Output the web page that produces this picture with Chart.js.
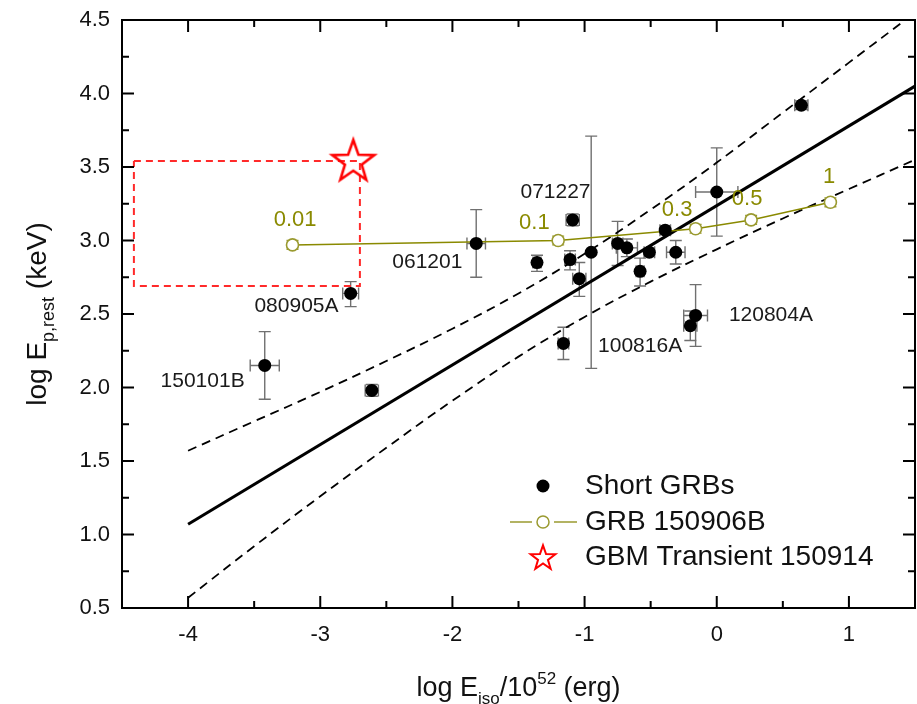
<!DOCTYPE html>
<html>
<head>
<meta charset="utf-8">
<script src="https://cdn.jsdelivr.net/npm/chart.js@4.4.0/dist/chart.umd.min.js"></script>
<style>
  html, body { margin: 0; padding: 0; background: #fff; }
  canvas { display: block; }
</style>
</head>
<body>
<canvas id="chart" width="917" height="704"></canvas>
<script>
// ---- data ----
const xMajor = [-4, -3, -2, -1, 0, 1];
const xMinor = [-3.5, -2.5, -1.5, -0.5, 0.5];
const yMajor = [0.5, 1.0, 1.5, 2.0, 2.5, 3.0, 3.5, 4.0, 4.5];
const yMinor = [0.75, 1.25, 1.75, 2.25, 2.75, 3.25, 3.75, 4.25];

// short GRBs
const sgrbX     = [-3.42, -2.61, -2.77, -1.82, -1.36, -1.09, -1.11, -1.04, -0.95, -0.75, -0.68, -0.58, -0.51, -0.39, -0.31, 0.00, -0.16, -0.20, -1.16, 0.64];
const sgrbY     = [ 2.15,  1.98,  2.64,  2.98,  2.85,  3.14,  2.87,  2.74,  2.92,  2.98,  2.95,  2.79,  2.92,  3.07,  2.92, 3.33,  2.49,  2.42,  2.30, 3.92];
const sgrbXErr  = [ 0.11,  0.05,  0.06,  0.07,  0.03,  0.05,  0.04,  0.05,  0.00,  0.04,  0.08,  0.03,  0.04,  0.04,  0.07, 0.16,  0.09,  0.05,  0.04, 0.05];
const sgrbYErrU = [ 0.23,  0.04,  0.08,  0.23,  0.05,  0.04,  0.06,  0.11,  0.79,  0.15,  0.06,  0.09,  0.03,  0.03,  0.08, 0.30,  0.21,  0.10,  0.11, 0.03];
const sgrbYErrD = [ 0.23,  0.04,  0.09,  0.23,  0.06,  0.04,  0.07,  0.12,  0.79,  0.15,  0.06,  0.10,  0.03,  0.03,  0.08, 0.30,  0.21,  0.10,  0.11, 0.03];

// GRB 150906B
const bX = [-3.21, -1.20, -0.16, 0.26, 0.86];
const bY = [2.97, 3.00, 3.08, 3.14, 3.26];
const bYErr = [0.03, 0.03, 0.03, 0.03, 0.03];
const bLabels = ['0.01', '0.1', '0.3', '0.5', '1'];

// GBM transient 150914
const starX = [-2.75];
const starY = [3.55];

// dashed red box
const boxX = [-4.41, -2.70, -2.70, -4.41, -4.41];
const boxY = [3.54, 3.54, 2.69, 2.69, 3.54];

// best fit and band
const fitX = [-4, 1.5];
const fitY = [1.07, 4.05];
const bandX  = [-4, -3.5, -3, -2.5, -2, -1.5, -1, -0.5, 0, 0.5, 1, 1.5];
const bandUp = [1.57, 1.77, 1.97, 2.18, 2.40, 2.64, 2.91, 3.21, 3.53, 3.87, 4.21, 4.55];
const bandLo = [0.57, 0.92, 1.26, 1.59, 1.91, 2.21, 2.48, 2.72, 2.94, 3.15, 3.35, 3.55];

// text labels (data coords of label centre)
const grbNames = [
  { t: '071227', x: -1.22, y: 3.33 },
  { t: '061201', x: -2.19, y: 2.85 },
  { t: '080905A', x: -3.18, y: 2.55 },
  { t: '150101B', x: -3.89, y: 2.04 },
  { t: '100816A', x: -0.58, y: 2.28 },
  { t: '120804A', x: 0.41, y: 2.49 },
];
const bLabelPos = [
  { x: -3.19, y: 3.14 }, { x: -1.38, y: 3.12 }, { x: -0.30, y: 3.21 }, { x: 0.23, y: 3.28 }, { x: 0.85, y: 3.43 }
];

const FONT = '"Liberation Sans", Arial, Helvetica, sans-serif';
const OLIVE = '#8a8a00';
const OLIVE_MK = '#9a9a30';
const ERR = '#707070';

const pts = (xs, ys) => xs.map((x, i) => ({ x: x, y: ys[i] }));

function makeStar(R, lw) {
  const s = Math.ceil(2 * R + lw * 2 + 4);
  const c = document.createElement('canvas');
  c.width = s; c.height = s;
  const g = c.getContext('2d');
  g.translate(s / 2, s / 2 + R * 0.1);
  g.beginPath();
  for (let i = 0; i < 10; i++) {
    const r = i % 2 ? R * 0.4 : R;
    const a = -Math.PI / 2 + i * Math.PI / 5;
    if (i === 0) g.moveTo(r * Math.cos(a), r * Math.sin(a));
    else g.lineTo(r * Math.cos(a), r * Math.sin(a));
  }
  g.closePath();
  g.lineJoin = 'miter';
  g.strokeStyle = '#ff0000';
  g.lineWidth = lw;
  g.stroke();
  return c;
}
const bigStar = makeStar(22, 2.6);
const smallStar = makeStar(13, 2);

function richText(ctx, parts, x, y) {
  let w = 0;
  parts.forEach(p => { ctx.font = p.f + 'px ' + FONT; p.w = ctx.measureText(p.t).width; w += p.w; });
  let cx = x - w / 2;
  ctx.textAlign = 'left';
  ctx.textBaseline = 'alphabetic';
  parts.forEach(p => {
    ctx.font = p.f + 'px ' + FONT;
    ctx.fillText(p.t, cx, y + (p.dy || 0));
    cx += p.w;
  });
}

const errorBars = {
  id: 'errorBars',
  beforeDatasetsDraw(chart) {
    const { ctx, scales: { x, y } } = chart;
    ctx.save();
    ctx.strokeStyle = ERR;
    ctx.lineWidth = 1.4;
    const cap = 6;
    sgrbX.forEach((vx, i) => {
      const px = x.getPixelForValue(vx), py = y.getPixelForValue(sgrbY[i]);
      const yt = y.getPixelForValue(sgrbY[i] + sgrbYErrU[i]);
      const yb = y.getPixelForValue(sgrbY[i] - sgrbYErrD[i]);
      ctx.beginPath();
      ctx.moveTo(px, yt); ctx.lineTo(px, yb);
      ctx.moveTo(px - cap, yt); ctx.lineTo(px + cap, yt);
      ctx.moveTo(px - cap, yb); ctx.lineTo(px + cap, yb);
      if (sgrbXErr[i] > 0) {
        const xl = x.getPixelForValue(vx - sgrbXErr[i]);
        const xr = x.getPixelForValue(vx + sgrbXErr[i]);
        ctx.moveTo(xl, py); ctx.lineTo(xr, py);
        ctx.moveTo(xl, py - cap); ctx.lineTo(xl, py + cap);
        ctx.moveTo(xr, py - cap); ctx.lineTo(xr, py + cap);
      }
      ctx.stroke();
    });
    ctx.strokeStyle = OLIVE_MK;
    bX.forEach((vx, i) => {
      const px = x.getPixelForValue(vx);
      const yt = y.getPixelForValue(bY[i] + bYErr[i]);
      const yb = y.getPixelForValue(bY[i] - bYErr[i]);
      ctx.beginPath();
      ctx.moveTo(px - cap, yt); ctx.lineTo(px + cap, yt);
      ctx.moveTo(px - cap, yb); ctx.lineTo(px + cap, yb);
      ctx.stroke();
    });
    ctx.restore();
  }
};

const decor = {
  id: 'decor',
  afterDraw(chart) {
    const { ctx, chartArea: a, scales: { x, y } } = chart;
    ctx.save();
    // frame
    ctx.strokeStyle = '#000';
    ctx.lineWidth = 2;
    ctx.strokeRect(a.left, a.top, a.right - a.left, a.bottom - a.top);
    // inward ticks on all four sides
    const tick = (vals, len) => {
      vals.forEach(v => {
        const px = x.getPixelForValue(v);
        ctx.moveTo(px, a.bottom); ctx.lineTo(px, a.bottom - len);
        ctx.moveTo(px, a.top); ctx.lineTo(px, a.top + len);
      });
    };
    const ytick = (vals, len) => {
      vals.forEach(v => {
        const py = y.getPixelForValue(v);
        ctx.moveTo(a.left, py); ctx.lineTo(a.left + len, py);
        ctx.moveTo(a.right, py); ctx.lineTo(a.right - len, py);
      });
    };
    ctx.beginPath();
    tick(xMajor, 12); tick(xMinor, 7);
    ytick(yMajor, 12); ytick(yMinor, 7);
    ctx.stroke();

    // point labels
    ctx.fillStyle = '#1a1a1a';
    ctx.font = '21px ' + FONT;
    ctx.textAlign = 'center';
    ctx.textBaseline = 'middle';
    grbNames.forEach(l => ctx.fillText(l.t, x.getPixelForValue(l.x), y.getPixelForValue(l.y)));
    ctx.fillStyle = OLIVE;
    ctx.font = '22px ' + FONT;
    bLabels.forEach((t, i) => ctx.fillText(t, x.getPixelForValue(bLabelPos[i].x), y.getPixelForValue(bLabelPos[i].y)));

    // legend
    const lx = 543, tx = 585;
    const ly = [486, 522, 557];
    ctx.fillStyle = '#000';
    ctx.beginPath(); ctx.arc(lx, ly[0], 6.5, 0, Math.PI * 2); ctx.fill();
    ctx.strokeStyle = OLIVE_MK; ctx.lineWidth = 1.5;
    ctx.beginPath(); ctx.moveTo(510, ly[1]); ctx.lineTo(532, ly[1]); ctx.moveTo(554, ly[1]); ctx.lineTo(577, ly[1]); ctx.stroke();
    ctx.fillStyle = '#fff';
    ctx.beginPath(); ctx.arc(lx, ly[1], 6, 0, Math.PI * 2); ctx.fill(); ctx.stroke();
    ctx.drawImage(smallStar, lx - smallStar.width / 2, ly[2] - smallStar.height / 2);
    ctx.fillStyle = '#111';
    ctx.font = '28px ' + FONT;
    ctx.textAlign = 'left';
    ctx.textBaseline = 'middle';
    ctx.fillText('Short GRBs', tx, ly[0]);
    ctx.fillText('GRB 150906B', tx, ly[1]);
    ctx.fillText('GBM Transient 150914', tx, ly[2]);

    // axis titles
    ctx.fillStyle = '#111';
    richText(ctx, [
      { t: 'log E', f: 27 }, { t: 'iso', f: 17, dy: 8 }, { t: '/10', f: 27 }, { t: '52', f: 17, dy: -12 }, { t: ' (erg)', f: 27 }
    ], (a.left + a.right) / 2, 696);
    ctx.save();
    ctx.translate(46, (a.top + a.bottom) / 2);
    ctx.rotate(-Math.PI / 2);
    richText(ctx, [
      { t: 'log E', f: 28 }, { t: 'p,rest', f: 18, dy: 8 }, { t: ' (keV)', f: 28 }
    ], 0, 0);
    ctx.restore();
    ctx.restore();
  }
};

const chart = new Chart(document.getElementById('chart'), {
  type: 'scatter',
  data: {
    datasets: [
      {
        label: 'GBM Transient 150914',
        data: pts(starX, starY),
        pointStyle: bigStar,
        order: 0,
      },
      {
        label: 'Short GRBs',
        data: pts(sgrbX, sgrbY),
        pointRadius: 6.5,
        backgroundColor: '#000',
        borderColor: '#000',
        borderWidth: 0,
        order: 1,
      },
      {
        label: 'GRB 150906B',
        data: pts(bX, bY),
        showLine: true,
        borderColor: OLIVE,
        borderWidth: 1.5,
        pointRadius: 6,
        pointBackgroundColor: '#fff',
        pointBorderColor: OLIVE_MK,
        pointBorderWidth: 1.6,
        order: 2,
      },
      {
        label: 'box',
        data: pts(boxX, boxY),
        showLine: true,
        borderColor: '#ff2a2a',
        borderWidth: 2,
        borderDash: [7, 5],
        pointRadius: 0,
        order: 3,
      },
      {
        label: 'fit',
        data: pts(fitX, fitY),
        showLine: true,
        borderColor: '#000',
        borderWidth: 3,
        pointRadius: 0,
        order: 4,
      },
      {
        label: 'upper',
        data: pts(bandX, bandUp),
        showLine: true,
        tension: 0.4,
        borderColor: '#000',
        borderWidth: 1.8,
        borderDash: [9, 6],
        pointRadius: 0,
        order: 5,
      },
      {
        label: 'lower',
        data: pts(bandX, bandLo),
        showLine: true,
        tension: 0.4,
        borderColor: '#000',
        borderWidth: 1.8,
        borderDash: [9, 6],
        pointRadius: 0,
        order: 6,
      },
    ]
  },
  options: {
    responsive: false,
    animation: false,
    layout: { autoPadding: false, padding: { left: 0, top: 20, right: 2, bottom: 0 } },
    plugins: {
      legend: { display: false },
      tooltip: { enabled: false },
    },
    scales: {
      x: {
        type: 'linear',
        min: -4.5,
        max: 1.5,
        grid: { display: false, drawTicks: false },
        border: { display: false },
        afterBuildTicks: s => { s.ticks = xMajor.map(v => ({ value: v })); },
        afterFit: s => { s.height = 96; s.paddingLeft = 0; s.paddingRight = 0; },
        ticks: {
          padding: 14,
          color: '#111',
          font: { family: FONT, size: 22 },
          callback: v => String(v),
        },
      },
      y: {
        type: 'linear',
        min: 0.5,
        max: 4.5,
        grid: { display: false, drawTicks: false },
        border: { display: false },
        afterBuildTicks: s => { s.ticks = yMajor.map(v => ({ value: v })); },
        afterFit: s => { s.width = 122; s.paddingTop = 0; s.paddingBottom = 0; },
        ticks: {
          padding: 12,
          color: '#111',
          font: { family: FONT, size: 22 },
          callback: v => Number(v).toFixed(1),
        },
      },
    },
  },
  plugins: [errorBars, decor],
});
</script>
</body>
</html>
